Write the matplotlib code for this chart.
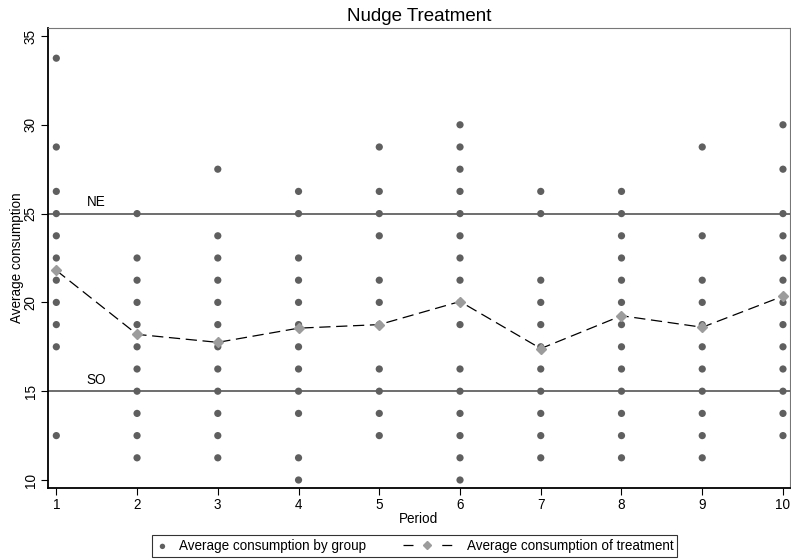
import matplotlib.pyplot as plt
import numpy as np
from matplotlib.legend_handler import HandlerLine2D

plt.rcParams['font.family'] = ['Liberation Sans', 'DejaVu Sans']

# group averages per period
group_avg = {
    1: [33.75, 28.75, 26.25, 25, 23.75, 22.5, 21.25, 20, 18.75, 17.5, 12.5],
    2: [25, 22.5, 21.25, 20, 18.75, 17.5, 16.25, 15, 13.75, 12.5, 11.25],
    3: [27.5, 23.75, 22.5, 21.25, 20, 18.75, 17.5, 16.25, 15, 13.75, 12.5, 11.25],
    4: [26.25, 25, 22.5, 21.25, 20, 18.75, 17.5, 16.25, 15, 13.75, 11.25, 10],
    5: [28.75, 26.25, 25, 23.75, 21.25, 20, 18.75, 16.25, 15, 13.75, 12.5],
    6: [30, 28.75, 27.5, 26.25, 25, 23.75, 22.5, 21.25, 20, 18.75, 16.25, 15,
        13.75, 12.5, 11.25, 10],
    7: [26.25, 25, 21.25, 20, 18.75, 17.5, 16.25, 15, 13.75, 12.5, 11.25],
    8: [26.25, 25, 23.75, 22.5, 21.25, 20, 18.75, 17.5, 16.25, 15, 13.75, 12.5, 11.25],
    9: [28.75, 23.75, 21.25, 20, 18.75, 17.5, 16.25, 15, 13.75, 12.5, 11.25],
    10: [30, 27.5, 25, 23.75, 22.5, 21.25, 20, 18.75, 17.5, 16.25, 15, 13.75, 12.5],
}
periods = list(range(1, 11))
treatment_avg = [21.8, 18.2, 17.75, 18.55, 18.75, 20.05, 17.4, 19.25, 18.6, 20.35]
ne_level = 25
so_level = 15

FS = 9.75


class WideLineHandler(HandlerLine2D):
    # stretch the dashed line handle to the left, into the column gap
    def get_xdata(self, legend, xdescent, ydescent, width, height, fontsize):
        xdata = np.array([-xdescent - 3.0 * fontsize,
                          -xdescent + 0.6 * fontsize])
        return xdata, xdata

    def create_artists(self, *args, **kwargs):
        artists = super().create_artists(*args, **kwargs)
        artists[0].set_dashes((8, 23))
        return artists


fig = plt.figure(figsize=(7.91, 5.6), dpi=100)
ax = fig.add_axes([48 / 791, 1 - 488 / 560, 742 / 791, 460 / 560])

ax.axhline(ne_level, color='#555555', lw=1.2, zorder=1)
ax.axhline(so_level, color='#555555', lw=1.2, zorder=1)
ax.text(1.5, ne_level + 0.25, 'NE', ha='center', va='bottom', fontsize=FS)
ax.text(1.5, so_level + 0.25, 'SO', ha='center', va='bottom', fontsize=FS)

xs = [p for p in periods for _ in group_avg[p]]
ys = [v for p in periods for v in group_avg[p]]
dots = ax.scatter(xs, ys, s=27, color='#5f5f5f', edgecolors='none', zorder=2,
                  label='Average consumption by group')
mean_line, = ax.plot(periods, treatment_avg, color='black', lw=0.9, dashes=(9, 4.5),
                     marker='D', markersize=5.2, markerfacecolor='#9c9c9c',
                     markeredgecolor='#9c9c9c', zorder=3,
                     label='Average consumption of treatment')

ax.set_xlim(0.897, 10.087)
ax.set_ylim(9.55, 35.45)
ax.set_xticks(periods)
ax.set_yticks([10, 15, 20, 25, 30, 35])
ax.tick_params(axis='both', labelsize=FS, length=5, width=0.8, color='black',
               pad=2.5)
for lbl in ax.get_yticklabels():
    lbl.set_rotation(90)
    lbl.set_va('center')

for side in ['left', 'bottom']:
    ax.spines[side].set_color('black')
    ax.spines[side].set_linewidth(1.3)
for side in ['top', 'right']:
    ax.spines[side].set_color('#777777')
    ax.spines[side].set_linewidth(0.8)

ax.set_xlabel('Period', fontsize=FS, labelpad=0)
ax.set_ylabel('Average consumption', fontsize=FS, labelpad=0)
ax.set_title('Nudge Treatment', fontsize=13.5, pad=5)

leg = fig.legend(handles=[dots, mean_line], loc='lower center',
                 bbox_to_anchor=(414.5 / 791, 3 / 560), borderaxespad=0,
                 ncol=2, fontsize=FS, frameon=True, fancybox=False,
                 handlelength=1.0, handletextpad=0.7, columnspacing=5.75,
                 borderpad=0.3, markerscale=0.75,
                 handler_map={mean_line: WideLineHandler()})
leg.get_frame().set_edgecolor('black')
leg.get_frame().set_linewidth(0.8)

fig.savefig('out.png', dpi=100)
